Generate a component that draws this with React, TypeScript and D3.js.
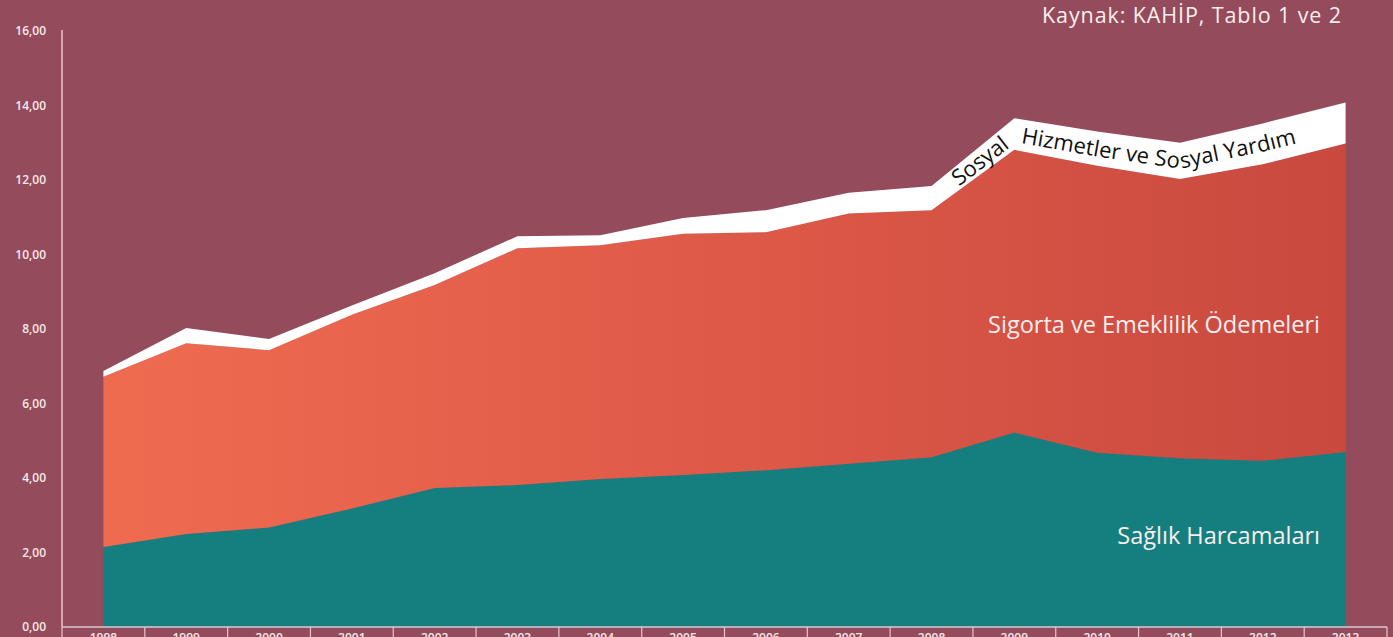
import React from "react";
import * as d3 from "d3";

const years = ["1998","1999","2000","2001","2002","2003","2004","2005","2006","2007","2008","2009","2010","2011","2012","2013"];
const saglik = [2.15, 2.50, 2.67, 3.18, 3.73, 3.81, 3.97, 4.08, 4.21, 4.38, 4.56, 5.22, 4.68, 4.53, 4.46, 4.70];
const sigorta = [4.57, 5.12, 4.76, 5.20, 5.45, 6.36, 6.28, 6.48, 6.39, 6.72, 6.63, 7.59, 7.70, 7.50, 7.96, 8.28];
const sosyal = [0.15, 0.41, 0.30, 0.25, 0.32, 0.32, 0.27, 0.42, 0.59, 0.56, 0.65, 0.85, 0.92, 0.97, 1.10, 1.10];
const yTicks = [0, 2, 4, 6, 8, 10, 12, 14, 16];

const W = 1393, H = 637;
const X0 = 62, X1 = 1387, Y0 = 627, Y1 = 31;
const FONT = "'Open Sans', 'Noto Sans', sans-serif";

export default function App() {
  const x = d3.scaleBand<string>().domain(years).range([X0, X1]).padding(0);
  const cx = (y: string) => (x(y) as number) + x.bandwidth() / 2;
  const y = d3.scaleLinear().domain([0, 16]).range([Y0, Y1]);

  const rows = years.map((yr, i) => ({ year: yr, saglik: saglik[i], sigorta: sigorta[i], sosyal: sosyal[i] }));
  const stack = d3.stack<any>().keys(["saglik", "sigorta", "sosyal"]);
  const series = stack(rows);
  const area = d3.area<any>()
    .x((d) => cx(d.data.year))
    .y0((d) => y(d[0]))
    .y1((d) => y(d[1]))
    .curve(d3.curveLinear);

  const fills = ["#157f7f", "url(#redGrad)", "#ffffff"];

  // midline of the white band for the text path, from 2008 onward
  const sos = series[2];
  const startIdx = 10;
  const mid = sos.slice(startIdx).map((d: any) => [cx(d.data.year), y((d[0] + d[1]) / 2)] as [number, number]);
  const midPath = d3.line()(mid) as string;
  const seg0 = Math.hypot(mid[1][0] - mid[0][0], mid[1][1] - mid[0][1]);

  return (
    <svg width={W} height={H} style={{ position: "absolute", left: 0, top: 0, display: "block" }}>
      <defs>
        <linearGradient id="redGrad" gradientUnits="userSpaceOnUse" x1={cx(years[0])} y1={0} x2={cx(years[years.length - 1])} y2={0}>
          <stop offset="0" stopColor="#ef6b50" />
          <stop offset="0.5" stopColor="#de5a48" />
          <stop offset="1" stopColor="#c9493f" />
        </linearGradient>
        <path id="sosPath" d={midPath} />
      </defs>
      <rect x={0} y={0} width={W} height={H} fill="#944b5b" />
      {series.map((s: any, i: number) => (
        <path key={i} d={area(s) as string} fill={fills[i]} />
      ))}
      {/* y axis */}
      <line x1={X0} x2={X0} y1={30} y2={Y0} stroke="#eec3c8" strokeWidth={1.5} />
      {yTicks.map((t) => (
        <text key={t} x={46} y={y(t)} dy="0.35em" textAnchor="end" fontFamily={FONT} fontWeight={600} fontSize={12} fill="#f6e8ea">
          {t.toFixed(2).replace(".", ",")}
        </text>
      ))}
      {/* x axis */}
      <line x1={X0} x2={X1} y1={Y0} y2={Y0} stroke="#d8c8d4" strokeWidth={1.5} />
      {years.map((yr) => (
        <line key={"s" + yr} x1={x(yr) as number} x2={x(yr) as number} y1={Y0} y2={H} stroke="#eec3c8" strokeWidth={1.2} />
      ))}
      <line x1={X1} x2={X1} y1={Y0} y2={H} stroke="#eec3c8" strokeWidth={1.2} />
      {years.map((yr) => (
        <text key={"t" + yr} x={cx(yr)} y={642} textAnchor="middle" fontFamily={FONT} fontWeight={600} fontSize={12} fill="#f6e8ea">
          {yr}
        </text>
      ))}
      {/* labels */}
      <text x={1320} y={333} textAnchor="end" fontFamily={FONT} fontSize={23.5} fill="#fbeeee">Sigorta ve Emeklilik Ödemeleri</text>
      <text x={1320} y={544} textAnchor="end" fontFamily={FONT} fontSize={23.5} fill="#fbeeee">Sağlık Harcamaları</text>
      <text x={1342} y={23} textAnchor="end" fontFamily={FONT} fontSize={21.5} letterSpacing={0.9} fill="#fbeeee">Kaynak: KAHİP, Tablo 1 ve 2</text>
      <text fontFamily={FONT} fontSize={22} fill="#111" dy="0.35em">
        <textPath href="#sosPath" startOffset={seg0 - 76}>Sosyal</textPath>
      </text>
      <text fontFamily={FONT} fontSize={22} fill="#111" dy="0.35em">
        <textPath href="#sosPath" startOffset={seg0 + 8}>Hizmetler ve Sosyal Yardım</textPath>
      </text>
    </svg>
  );
}
